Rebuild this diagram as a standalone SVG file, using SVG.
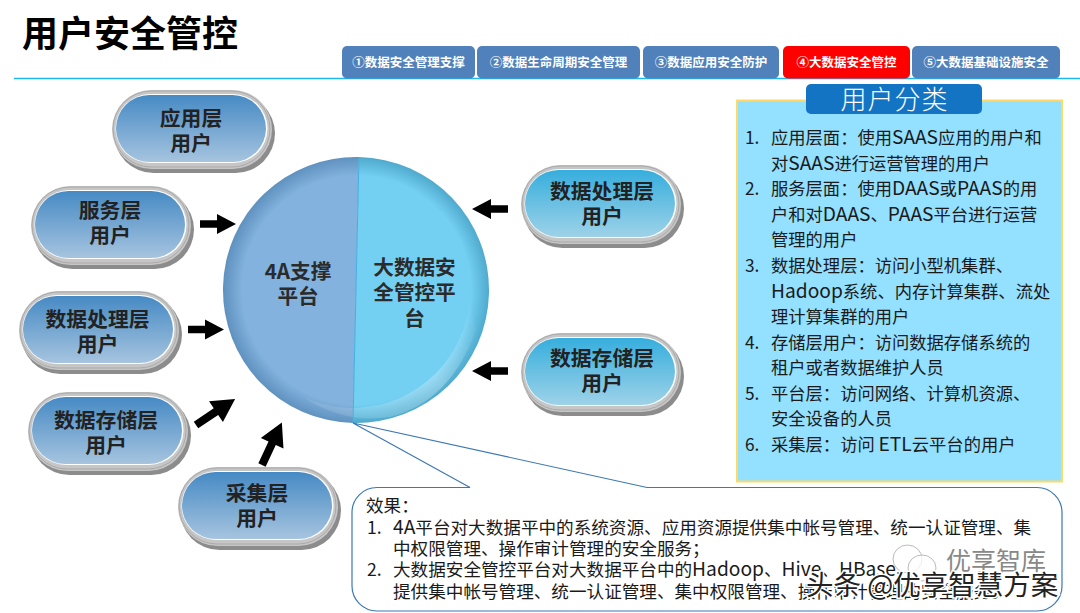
<svg xmlns="http://www.w3.org/2000/svg" xmlns:xlink="http://www.w3.org/1999/xlink" width="1080" height="613" viewBox="0 0 1080 613">
<style>
text{font-family:"Noto Sans CJK SC","Noto Sans",sans-serif}
.pill{font-size:20.8px;font-weight:700;fill:#222;text-anchor:middle}
.tab{font-size:12.5px;font-weight:700;fill:#fff;text-anchor:middle}
.tabr{fill:#5081bb}
.b{font-size:17.3px;fill:#1a1a1a}
.c{font-size:17.6px;fill:#1a1a1a}
.L{font-size:19.2px}
.ctr{font-size:20.6px;font-weight:700;fill:#2b2b2b;text-anchor:middle}
</style>
<defs>
<linearGradient id="bl" x1="0" y1="0" x2="0" y2="1"><stop offset="0" stop-color="#468ac4"/><stop offset="1" stop-color="#a6c4df"/></linearGradient>
<linearGradient id="cy" x1="0" y1="0" x2="0" y2="1"><stop offset="0" stop-color="#36aedd"/><stop offset="1" stop-color="#9ed2e8"/></linearGradient>
<radialGradient id="lf" gradientUnits="userSpaceOnUse" cx="356.500" cy="290" r="133"><stop offset="0" stop-color="#82b2dd"/><stop offset=".86" stop-color="#82b2dd"/><stop offset="1" stop-color="#6092c0"/></radialGradient>
<radialGradient id="rt" gradientUnits="userSpaceOnUse" cx="356.500" cy="290" r="133"><stop offset="0" stop-color="#74d0f3"/><stop offset=".86" stop-color="#74d0f3"/><stop offset="1" stop-color="#4ea9cc"/></radialGradient>
<linearGradient id="hl" gradientUnits="userSpaceOnUse" x1="340" y1="420" x2="470" y2="300"><stop offset="0" stop-color="#fff" stop-opacity=".1"/><stop offset=".55" stop-color="#fff" stop-opacity=".28"/><stop offset="1" stop-color="#fff" stop-opacity="0"/></linearGradient>
<g id="shell">
<rect x="2" y="4" width="161" height="79" rx="39.500" fill="#8c8c8c"/>
<rect x="0" y="0" width="160" height="79" rx="39.500" fill="#c6c6c6"/>
<rect x="1" y="1" width="157" height="76" rx="38" fill="none" stroke="#aaa" stroke-width="1"/>
<rect x="3.500" y="4" width="152" height="69" rx="34.500" fill="#fff"/>
</g>
<path id="arr" d="M0,-3.700H17V-10L36,0L17,10V3.700H0Z" fill="#000"/>
<path id="arr2" d="M0,-4H24V-12.500L47,0L24,12.500V4H0Z" fill="#000"/>
</defs>
<rect width="1080" height="613" fill="#fff"/>
<g id="title"><text x="22" y="47" font-size="36" font-weight="700" fill="#000">用户安全管控</text>
<line x1="14" y1="78.500" x2="1080" y2="78.500" stroke="#1fb8ee" stroke-width="1.300"/></g>
<g id="tabs">
<g id="tab1"><rect class="tabr" x="342" y="46" width="133" height="32.500" rx="5"/><text class="tab" x="408.500" y="66.500">①数据安全管理支撑</text></g>
<g id="tab2"><rect class="tabr" x="477" y="46" width="163" height="32.500" rx="5"/><text class="tab" x="558.500" y="66.500">②数据生命周期安全管理</text></g>
<g id="tab3"><rect class="tabr" x="643" y="46" width="136" height="32.500" rx="5"/><text class="tab" x="711" y="66.500">③数据应用安全防护</text></g>
<g id="tab4"><rect x="783" y="46" width="127" height="32.500" rx="5" fill="#ff0000"/><text class="tab" x="846.500" y="66.500">④大数据安全管控</text></g>
<g id="tab5"><rect class="tabr" x="912" y="46" width="148" height="32.500" rx="5"/><text class="tab" x="986" y="66.500">⑤大数据基础设施安全</text></g>
</g>
<g id="node-app"><use xlink:href="#shell" x="112" y="90"/><rect x="116" y="95" width="150" height="67" rx="33.500" fill="url(#bl)"/><text class="pill" x="191" y="126">应用层</text><text class="pill" x="191" y="151">用户</text></g>
<g id="node-service"><use xlink:href="#shell" x="31" y="186"/><rect x="35" y="191" width="150" height="67" rx="33.500" fill="url(#bl)"/><text class="pill" x="110" y="218">服务层</text><text class="pill" x="110" y="243">用户</text></g>
<g id="node-proc-l"><use xlink:href="#shell" x="19" y="291"/><rect x="23" y="296" width="150" height="67" rx="33.500" fill="url(#bl)"/><text class="pill" x="97.500" y="327">数据处理层</text><text class="pill" x="97.500" y="352">用户</text></g>
<g id="node-store-l"><use xlink:href="#shell" x="28" y="392"/><rect x="32" y="397" width="150" height="67" rx="33.500" fill="url(#bl)"/><text class="pill" x="106" y="428">数据存储层</text><text class="pill" x="106" y="453">用户</text></g>
<g id="node-collect"><use xlink:href="#shell" x="178" y="467"/><rect x="182" y="472" width="150" height="67" rx="33.500" fill="url(#bl)"/><text class="pill" x="257" y="501">采集层</text><text class="pill" x="257" y="526">用户</text></g>
<g id="node-proc-r"><use xlink:href="#shell" x="521" y="165"/><rect x="525" y="170" width="150" height="67" rx="33.500" fill="url(#cy)"/><text class="pill" x="602" y="199">数据处理层</text><text class="pill" x="602" y="224">用户</text></g>
<g id="node-store-r"><use xlink:href="#shell" x="521" y="333"/><rect x="525" y="338" width="150" height="67" rx="33.500" fill="url(#cy)"/><text class="pill" x="602" y="366">数据存储层</text><text class="pill" x="602" y="391">用户</text></g>
<g id="connectors">
<use xlink:href="#arr" transform="translate(200,224)"/>
<use xlink:href="#arr" transform="translate(188,329.500)"/>
<use xlink:href="#arr2" transform="translate(196,425) rotate(-33.700)"/>
<use xlink:href="#arr2" transform="translate(262,465) rotate(-65)"/>
<use xlink:href="#arr" transform="translate(508,209) rotate(180)"/>
<use xlink:href="#arr" transform="translate(508,371) rotate(180)"/>
</g>
<g id="node-hub">
<path d="M359,157A133,133 0 0 0 353,423Z" fill="url(#lf)"/>
<path d="M359,157A133,133 0 0 1 353,423Z" fill="url(#rt)"/>
<path d="M470,298A118,118 0 0 1 305,398Q345,424 390,417Q450,402 476,330Z" fill="url(#hl)"/>
<line x1="359" y1="157" x2="353" y2="423" stroke="#45aee0" stroke-width="1"/>
<text class="ctr" x="298" y="279">4A支撑</text><text class="ctr" x="298" y="304">平台</text>
<text class="ctr" x="414.500" y="275">大数据安</text><text class="ctr" x="414.500" y="300">全管控平</text><text class="ctr" x="414.500" y="326">台</text>
</g>
<g id="panel">
<rect x="737" y="100.500" width="325" height="381" fill="#93e0ff" stroke="#ffd966" stroke-width="2"/>
<rect x="806" y="84" width="176" height="30" rx="5" fill="#1474c4"/>
<text x="894.500" y="109" font-size="26" fill="#fff" text-anchor="middle" font-weight="300" letter-spacing="1">用户分类</text>
<text class="b" x="745" y="144">1.</text><text class="b" x="771" y="144">应用层面&#xFF1A;使用<tspan class="L">SAAS</tspan>应用的用户和</text>
<text class="b" x="771" y="169.500">对<tspan class="L">SAAS</tspan>进行运营管理的用户</text>
<text class="b" x="745" y="195">2.</text><text class="b" x="771" y="195">服务层面&#xFF1A;使用<tspan class="L">DAAS</tspan>或<tspan class="L">PAAS</tspan>的用</text>
<text class="b" x="771" y="220.500">户和对<tspan class="L">DAAS</tspan>、<tspan class="L">PAAS</tspan>平台进行运营</text>
<text class="b" x="771" y="246">管理的用户</text>
<text class="b" x="745" y="272">3.</text><text class="b" x="771" y="272">数据处理层&#xFF1A;访问小型机集群、</text>
<text class="b" x="771" y="297.500"><tspan class="L">Hadoop</tspan>系统、内存计算集群、流处</text>
<text class="b" x="771" y="323">理计算集群的用户</text>
<text class="b" x="745" y="348.500">4.</text><text class="b" x="771" y="348.500">存储层用户&#xFF1A;访问数据存储系统的</text>
<text class="b" x="771" y="374">租户或者数据维护人员</text>
<text class="b" x="745" y="399.500">5.</text><text class="b" x="771" y="399.500">平台层&#xFF1A;访问网络、计算机资源、</text>
<text class="b" x="771" y="425">安全设备的人员</text>
<text class="b" x="745" y="450.500">6.</text><text class="b" x="771" y="450.500">采集层&#xFF1A;访问 <tspan class="L">ETL</tspan>云平台的用户</text>
</g>
<g id="callout">
<path d="M377,487.500H470L353,423L647,487.500H1037A25,25 0 0 1 1062,512.500V586A25,25 0 0 1 1037,611H377A25,25 0 0 1 352,586V512.500A25,25 0 0 1 377,487.500Z" fill="#fff" stroke="#3c78b4" stroke-width="1.200"/>
<text class="c" x="366" y="512">效果&#xFF1A;</text>
<text class="c" x="367" y="534">1.</text><text class="c" x="393" y="534"><tspan class="L">4A</tspan>平台对大数据平中的系统资源、应用资源提供集中帐号管理、统一认证管理、集</text>
<text class="c" x="393" y="555">中权限管理、操作审计管理的安全服务&#xFF1B;</text>
<text class="c" x="367" y="576">2.</text><text class="c" x="393" y="576">大数据安全管控平台对大数据平台中的<tspan class="L">Hadoop</tspan>、<tspan class="L">Hive</tspan>、<tspan class="L">HBase</tspan>、</text>
<text class="c" x="393" y="598">提供集中帐号管理、统一认证管理、集中权限管理、操作审计管理的安全服务。</text>
</g>
<g id="watermark">
<ellipse cx="907.500" cy="559" rx="14.500" ry="14" fill="#fff" fill-opacity=".75" stroke="#bbb"/>
<ellipse cx="922" cy="568" rx="14" ry="13" fill="#fff" fill-opacity=".75" stroke="#bbb"/>
<text x="946" y="570" font-size="25" fill="#888" stroke="#fff" stroke-width="1" paint-order="stroke">优享智库</text>
<text x="806" y="595" font-size="27.500" fill="#222" stroke="#fff" stroke-width="3" paint-order="stroke">头条 @优享智慧方案</text>
</g>
</svg>
